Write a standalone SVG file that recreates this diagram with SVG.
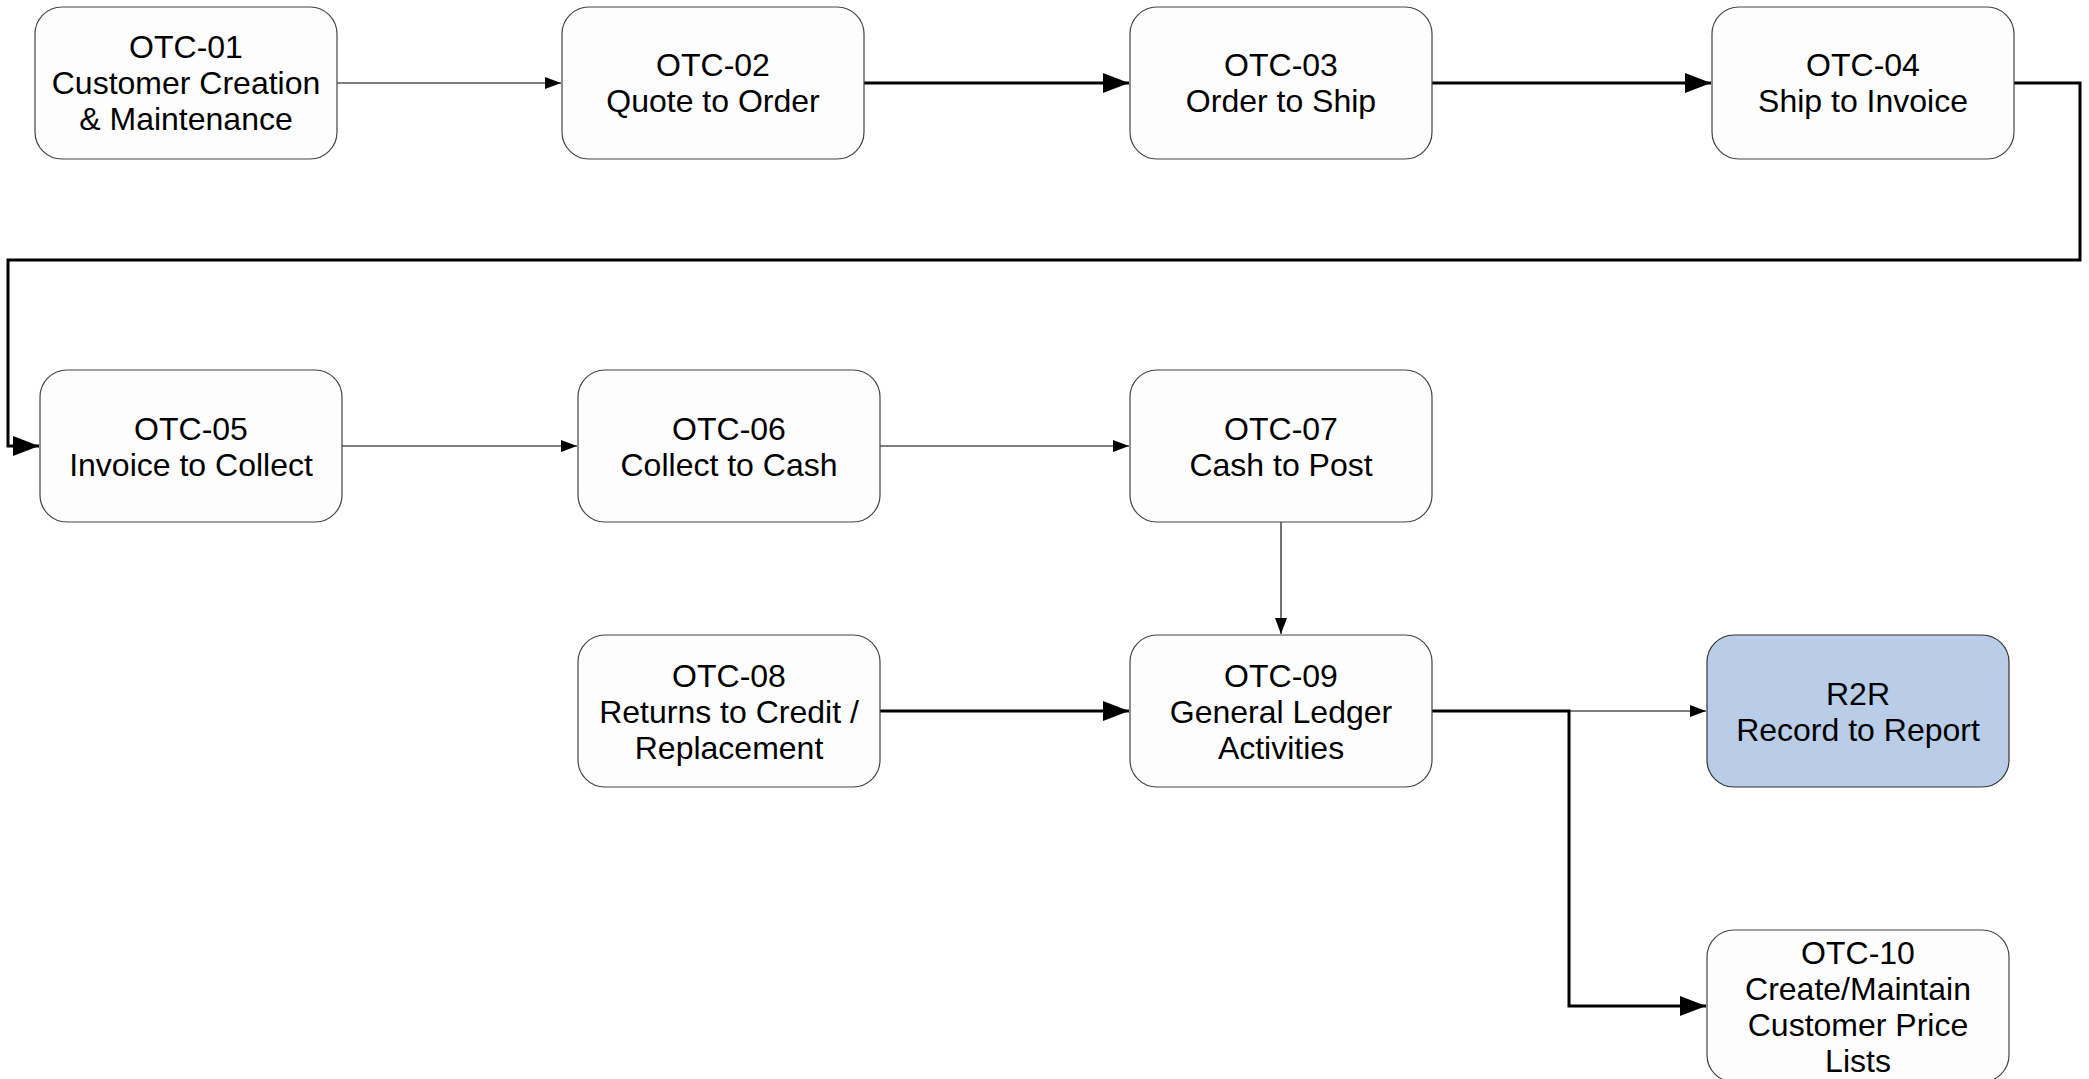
<svg xmlns="http://www.w3.org/2000/svg" width="2089" height="1079" viewBox="0 0 2089 1079">
<style>
.box{fill:#fdfdfd;stroke:#444;stroke-width:1.2}
.r2r{fill:#b9cde8;stroke:#333;stroke-width:1.2}
.t{font-family:"Liberation Sans",Arial,sans-serif;font-size:32px;fill:#000;text-anchor:middle}
.thin{fill:none;stroke:#000;stroke-width:1.1}
.thick{fill:none;stroke:#000;stroke-width:3}
</style>
<defs>
<marker id="ah" markerUnits="userSpaceOnUse" markerWidth="16" markerHeight="12" refX="16" refY="6" orient="auto"><path d="M0,0 L16,6 L0,12 z" fill="#000"/></marker>
<marker id="AH" markerUnits="userSpaceOnUse" markerWidth="26" markerHeight="20" refX="26" refY="10" orient="auto"><path d="M0,0 L26,10 L0,20 z" fill="#000"/></marker>
</defs>
<rect width="2089" height="1079" fill="#ffffff"/>
<g id="connectors">
<path class="thin" d="M337,83 H561" marker-end="url(#ah)"/>
<path class="thick" d="M864,83 H1129" marker-end="url(#AH)"/>
<path class="thick" d="M1432,83 H1711" marker-end="url(#AH)"/>
<path class="thick" d="M2014,83 H2080 V260 H8 V446 H39" marker-end="url(#AH)"/>
<path class="thin" d="M342,446 H577" marker-end="url(#ah)"/>
<path class="thin" d="M880,446 H1129" marker-end="url(#ah)"/>
<path class="thin" d="M1281,522 V634" marker-end="url(#ah)"/>
<path class="thick" d="M880,711 H1129" marker-end="url(#AH)"/>
<path class="thin" d="M1432,711 H1706" marker-end="url(#ah)"/>
<path class="thick" d="M1432,711 H1569 V1006 H1706" marker-end="url(#AH)"/>
</g>
<g id="otc01"><rect class="box" x="35" y="7" width="302" height="152" rx="27"/><text class="t" x="186" y="58">OTC-01</text><text class="t" x="186" y="94">Customer Creation</text><text class="t" x="186" y="130">&amp; Maintenance</text></g>
<g id="otc02"><rect class="box" x="562" y="7" width="302" height="152" rx="27"/><text class="t" x="713" y="76">OTC-02</text><text class="t" x="713" y="112">Quote to Order</text></g>
<g id="otc03"><rect class="box" x="1130" y="7" width="302" height="152" rx="27"/><text class="t" x="1281" y="76">OTC-03</text><text class="t" x="1281" y="112">Order to Ship</text></g>
<g id="otc04"><rect class="box" x="1712" y="7" width="302" height="152" rx="27"/><text class="t" x="1863" y="76">OTC-04</text><text class="t" x="1863" y="112">Ship to Invoice</text></g>
<g id="otc05"><rect class="box" x="40" y="370" width="302" height="152" rx="27"/><text class="t" x="191" y="439.5">OTC-05</text><text class="t" x="191" y="475.5">Invoice to Collect</text></g>
<g id="otc06"><rect class="box" x="578" y="370" width="302" height="152" rx="27"/><text class="t" x="729" y="439.5">OTC-06</text><text class="t" x="729" y="475.5">Collect to Cash</text></g>
<g id="otc07"><rect class="box" x="1130" y="370" width="302" height="152" rx="27"/><text class="t" x="1281" y="439.5">OTC-07</text><text class="t" x="1281" y="475.5">Cash to Post</text></g>
<g id="otc08"><rect class="box" x="578" y="635" width="302" height="152" rx="27"/><text class="t" x="729" y="686.5">OTC-08</text><text class="t" x="729" y="722.5">Returns to Credit /</text><text class="t" x="729" y="758.5">Replacement</text></g>
<g id="otc09"><rect class="box" x="1130" y="635" width="302" height="152" rx="27"/><text class="t" x="1281" y="686.5">OTC-09</text><text class="t" x="1281" y="722.5">General Ledger</text><text class="t" x="1281" y="758.5">Activities</text></g>
<g id="r2r"><rect class="r2r" x="1707" y="635" width="302" height="152" rx="27"/><text class="t" x="1858" y="704.5">R2R</text><text class="t" x="1858" y="740.5">Record to Report</text></g>
<g id="otc10"><rect class="box" x="1707" y="930" width="302" height="152" rx="27"/><text class="t" x="1858" y="963.5">OTC-10</text><text class="t" x="1858" y="999.5">Create/Maintain</text><text class="t" x="1858" y="1035.5">Customer Price</text><text class="t" x="1858" y="1071.5">Lists</text></g>
</svg>
